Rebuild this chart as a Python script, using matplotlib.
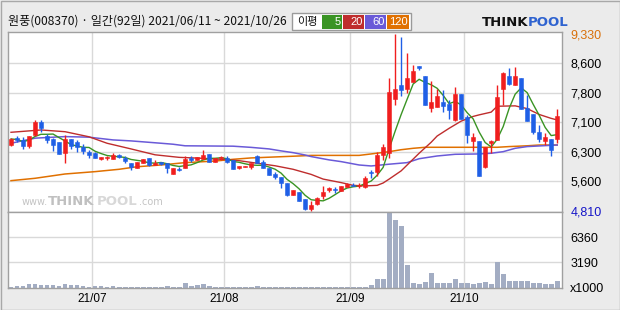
import numpy as np
import pandas as pd
import matplotlib
matplotlib.use("Agg")
import matplotlib.pyplot as plt
from matplotlib.patches import Rectangle

plt.rcParams['font.family'] = ['Noto Sans CJK KR', 'DejaVu Sans']

# ---------------- data ----------------
title = "원풍(008370) · 일간(92일) 2021/06/11 ~ 2021/10/26"
start_date, end_date = "2021-06-11", "2021-10-26"
krx_holidays = ["2021-08-16", "2021-09-20", "2021-09-21", "2021-09-22", "2021-10-04", "2021-10-11"]

opens = [6490, 6680, 6625, 6470, 6750, 7080, 6720, 6650, 6570, 6290,
         6645, 6570, 6450, 6320, 6286, 6130, 6150, 6140, 6240, 6170,
         6040, 5915, 6040, 6160, 5980, 6050, 6030, 5760, 5875, 5910,
         6150, 6110, 6135, 6260, 6065, 6150, 6150, 6110, 5900, 5930,
         5935, 6200, 6065, 5905, 5760, 5680, 5520, 5225, 5290, 5120,
         4855, 4980, 5190, 5335, 5360, 5315, 5425, 5480, 5450, 5425,
         5790, 5810, 6235, 6280, 7660, 8020, 7920, 8105, 8510, 8255,
         7430, 7470, 7600, 7540, 7130, 7790, 7200, 6600, 6595, 5935,
         6550, 6620, 7920, 8255, 8025, 8210, 7430, 7280, 6820, 6600,
         6645, 6640]
highs = [6680, 6720, 6705, 6720, 7130, 7130, 6770, 6660, 6570, 6740,
         6645, 6620, 6510, 6363, 6300, 6180, 6200, 6295, 6265, 6205,
         6040, 6065, 6130, 6160, 6110, 6060, 6030, 5910, 5930, 6200,
         6200, 6190, 6363, 6260, 6150, 6210, 6200, 6110, 5955, 5960,
         6030, 6230, 6110, 5905, 5810, 5680, 5520, 5350, 5290, 5120,
         5070, 5150, 5445, 5430, 5420, 5445, 5520, 5520, 5520, 5705,
         5850, 6310, 6520, 8195, 9330, 9260, 8830, 8535, 8510, 8255,
         8130, 7915, 7895, 7640, 7965, 7790, 7260, 6790, 6595, 6450,
         6620, 8025, 8365, 8465, 8470, 8210, 7770, 7280, 7010, 6790,
         6645, 7410]
lows = [6470, 6575, 6380, 6420, 6720, 6830, 6550, 6345, 6270, 6040,
        6400, 6300, 6250, 6170, 6150, 6120, 6120, 6140, 6150, 6040,
        5855, 5915, 6040, 5960, 5980, 5980, 5785, 5760, 5820, 5910,
        6060, 6110, 6135, 6065, 6065, 6120, 6040, 5890, 5870, 5930,
        5870, 6025, 5895, 5730, 5615, 5400, 5190, 5225, 5070, 4840,
        4810, 4960, 5105, 5290, 5260, 5315, 5425, 5440, 5380, 5400,
        5640, 5710, 6110, 6150, 7510, 7740, 7810, 8105, 8410, 7510,
        7340, 7470, 7340, 7155, 7100, 7165, 6535, 6345, 5710, 5900,
        6280, 6620, 7510, 8025, 8025, 7400, 7110, 6770, 6570, 6490,
        6220, 6540]
closes = [6644, 6620, 6470, 6720, 7080, 6930, 6620, 6500, 6270, 6645,
          6475, 6430, 6340, 6245, 6170, 6175, 6180, 6240, 6190, 6075,
          5920, 6065, 6130, 5980, 6040, 6005, 5905, 5910, 5850, 6140,
          6110, 6190, 6240, 6065, 6150, 6180, 6065, 5890, 5955, 5960,
          6030, 6025, 5895, 5730, 5680, 5530, 5225, 5350, 5070, 4855,
          4960, 5145, 5290, 5395, 5330, 5445, 5495, 5450, 5480, 5655,
          5770, 6235, 6450, 7850, 7910, 7895, 8195, 8390, 8450, 7510,
          7600, 7740, 7495, 7385, 7790, 7165, 6745, 6700, 5710, 6450,
          6595, 7725, 8320, 8050, 8255, 7400, 7110, 6830, 6650, 6700,
          6365, 7230]
volumes = [150, 250, 250, 520, 420, 380, 300, 330, 230, 480,
           300, 280, 170, 130, 160, 220, 120, 230, 110, 100,
           100, 120, 100, 100, 110, 100, 240, 120, 150, 600,
           200, 330, 420, 260, 130, 120, 100, 100, 110, 120,
           130, 260, 120, 100, 100, 110, 100, 120, 100, 100,
           110, 100, 100, 100, 110, 100, 120, 100, 100, 150,
           320, 1050, 1050, 9450, 8520, 7760, 2880, 600, 430, 760,
           1870, 640, 640, 640, 1100, 600, 560, 520, 650, 760,
           450, 3190, 1740, 900, 800, 900, 800, 560, 600, 430,
           470, 880]

# moving averages (day index -> value)
ma20_idx = [0, 5, 9, 13, 16, 20, 24, 28, 32, 35, 38, 41, 44, 47, 50, 52, 55, 57, 59,
            61, 62, 63, 65, 66, 68, 70, 71, 73, 75, 77, 78, 80, 81, 84, 86, 88, 90, 91]
ma20_val = [6815, 6874, 6830, 6700, 6535, 6390, 6240, 6175, 6150, 6125, 6090, 6025, 5960,
            5870, 5740, 5620, 5530, 5460, 5445, 5460, 5520, 5620, 5830, 5980, 6280, 6560,
            6720, 6917, 7100, 7220, 7260, 7330, 7480, 7490, 7420, 7270, 7170, 7130]
ma60_idx = [0, 4, 9, 13, 17, 20, 25, 27, 29, 37, 40, 43, 45, 47, 49, 50, 53, 55, 58, 60,
            63, 66, 68, 71, 74, 78, 80, 82, 84, 86, 88, 91]
ma60_val = [6535, 6665, 6705, 6690, 6620, 6595, 6535, 6510, 6470, 6460, 6430, 6390, 6340,
            6295, 6235, 6195, 6110, 6066, 5980, 5955, 6000, 6040, 6140, 6210, 6253, 6262,
            6280, 6320, 6406, 6450, 6466, 6490]
ma120_idx = [0, 4, 9, 14, 18, 21, 25, 29, 34, 37, 40, 44, 48, 50, 58, 60, 63, 65, 67, 69,
             81, 83, 86, 88, 91]
ma120_val = [5580, 5640, 5750, 5810, 5870, 5935, 5980, 6040, 6080, 6125, 6160, 6185, 6210,
             6225, 6225, 6262, 6320, 6370, 6406, 6432, 6432, 6450, 6470, 6490, 6490]

price_labels = ['9,330', '8,600', '7,800', '7,100', '6,300', '5,600', '4,810']
vol_labels = ['6360', '3190', 'x1000']
vol_tick_values = [6360, 3190, 0]
ma_periods = ['5', '20', '60', '120']

# ---------------- style ----------------
W, H = 620, 310
BG = '#ebebeb'
UP, DOWN = '#f01e1e', '#1f5fe6'
MA_COLORS = ['#3a9424', '#bf2d2d', '#6a5ad8', '#e07000']
GRID = '#d9d9d9'
SPINE = '#a0a0a0'

fig = plt.figure(figsize=(W / 100, H / 100), dpi=100, facecolor=BG)


def px_axes(l, t, r, b):
    return fig.add_axes([l / W, 1 - b / H, (r - l) / W, (b - t) / H])


dates = pd.bdate_range(start_date, end_date)
dates = dates[~dates.isin(pd.to_datetime(krx_holidays))]
n = len(closes)
x = np.arange(n)
month_starts = [i for i in range(1, n) if dates[i].month != dates[i - 1].month]
month_lbls = [dates[i].strftime('%y/%m') for i in month_starts]
grid_x = [i - 0.5 for i in month_starts]

o = np.array(opens); h = np.array(highs); l = np.array(lows); c = np.array(closes)
pmax, pmin = h.max(), l.min()
step = (pmax - pmin) / 6

ax = px_axes(8, 31.7, 562, 211.7)
axv = px_axes(8, 211.7, 562, 287.7)
for a in (ax, axv):
    a.set_facecolor('white')
    a.set_xlim(-0.5, 91.8)
    for s in a.spines.values():
        s.set_color(SPINE)
        s.set_linewidth(1)
    for gx in grid_x:
        a.axvline(gx, color=GRID, lw=1, zorder=0)

ax.set_ylim(pmin - 0.9 * step / 29.5, pmax + 2.1 * step / 29.5)
ptick = np.linspace(pmax, pmin, 7)
for yv in ptick[1:-1]:
    ax.axhline(yv, color=GRID, lw=1, zorder=0)

# watermark
wm = dict(transform=ax.transAxes, va='baseline', zorder=0.5, fontfamily='DejaVu Sans')
ax.text(0.024, 0.035, 'www.', color='#c4c4c4', fontsize=7, **wm)
ax.text(0.072, 0.035, 'THINK', color='#c0c0c0', fontsize=9.5, fontweight='bold', **wm)
ax.text(0.160, 0.035, 'POOL', color='#d8d8d8', fontsize=9.5, fontweight='bold', **wm)
ax.text(0.236, 0.035, '.com', color='#c4c4c4', fontsize=7, **wm)

# moving averages
ma5 = pd.Series(c).rolling(5, min_periods=1).mean()
ax.plot(ma120_idx, ma120_val, color=MA_COLORS[3], lw=1.1, zorder=2)
ax.plot(ma60_idx, ma60_val, color=MA_COLORS[2], lw=1.1, zorder=2)
ax.plot(ma20_idx, ma20_val, color=MA_COLORS[1], lw=1.0, zorder=2)
ax.plot(x, ma5, color=MA_COLORS[0], lw=1.0, zorder=2)

# candles
colors = np.where(c >= o, UP, DOWN)
ax.vlines(x, l, h, colors=colors, lw=1, zorder=3)
bottoms = np.minimum(o, c)
heights = np.maximum(np.abs(c - o), 12)
ax.bar(x, heights, bottom=bottoms, width=0.68, color=colors, edgecolor=colors, lw=0.4, zorder=4)

ax.set_xticks([])
ax.yaxis.tick_right()
ax.set_yticks(ptick)
ax.set_yticklabels(price_labels, fontfamily='Liberation Sans', fontsize=9)
ax.tick_params(axis='y', length=0, pad=6)
tl = ax.get_yticklabels()
tl[0].set_color('#d9700a')
tl[-1].set_color('#1515c8')

# volume
vmax_axis = 3 * 3190
axv.set_ylim(0, vmax_axis)
for yv in vol_tick_values[:2]:
    axv.axhline(yv, color=GRID, lw=1, zorder=0)
axv.bar(x, volumes, width=0.82, color='#a3adc3', zorder=2)
axv.yaxis.tick_right()
axv.set_yticks(vol_tick_values)
axv.set_yticklabels(vol_labels, fontfamily='Liberation Sans', fontsize=9)
axv.tick_params(axis='y', length=0, pad=6)
axv.set_xticks(grid_x)
axv.set_xticklabels(month_lbls, fontfamily='Liberation Sans', fontsize=8.5)
axv.tick_params(axis='x', length=0, pad=4)

# header
fig.text(8 / W, 1 - 21 / H, title, fontsize=8.7, va='center', ha='left', color='#111111')
fig.patches.append(Rectangle((292 / W, 1 - 30 / H), 119 / W, 17 / H, transform=fig.transFigure,
                             facecolor='white', edgecolor='#9a9a9a', lw=1))
fig.text(297 / W, 1 - 21.5 / H, '이평', fontsize=8, va='center', ha='left', color='#111111')
box_l = [322, 343, 365, 387]
box_r = [342, 364, 386, 409]
for bl, br, col, lab in zip(box_l, box_r, MA_COLORS, ma_periods):
    fig.patches.append(Rectangle((bl / W, 1 - 28.5 / H), (br - bl) / W, 13 / H,
                                 transform=fig.transFigure, facecolor=col, edgecolor='none'))
    fig.text((br - 1.5) / W, 1 - 22 / H, lab, fontsize=8, va='center', ha='right', color='white',
             fontfamily='Liberation Sans')

# logo
fig.text(482 / W, 1 - 22 / H, 'THINK', fontsize=9.5, fontweight='bold', va='center', ha='left',
         color='#111111', fontfamily='DejaVu Sans')
fig.text(528 / W, 1 - 22 / H, 'POOL', fontsize=9.5, fontweight='bold', va='center', ha='left',
         color='#2f63d0', fontfamily='DejaVu Sans')

# outer border
fig.patches.append(Rectangle((0.5 / W, 0.5 / H), (W - 1) / W, (H - 1) / H, transform=fig.transFigure,
                             facecolor='none', edgecolor='#a8a8a8', lw=1))

fig.savefig('out.png', dpi=100, facecolor=BG)
